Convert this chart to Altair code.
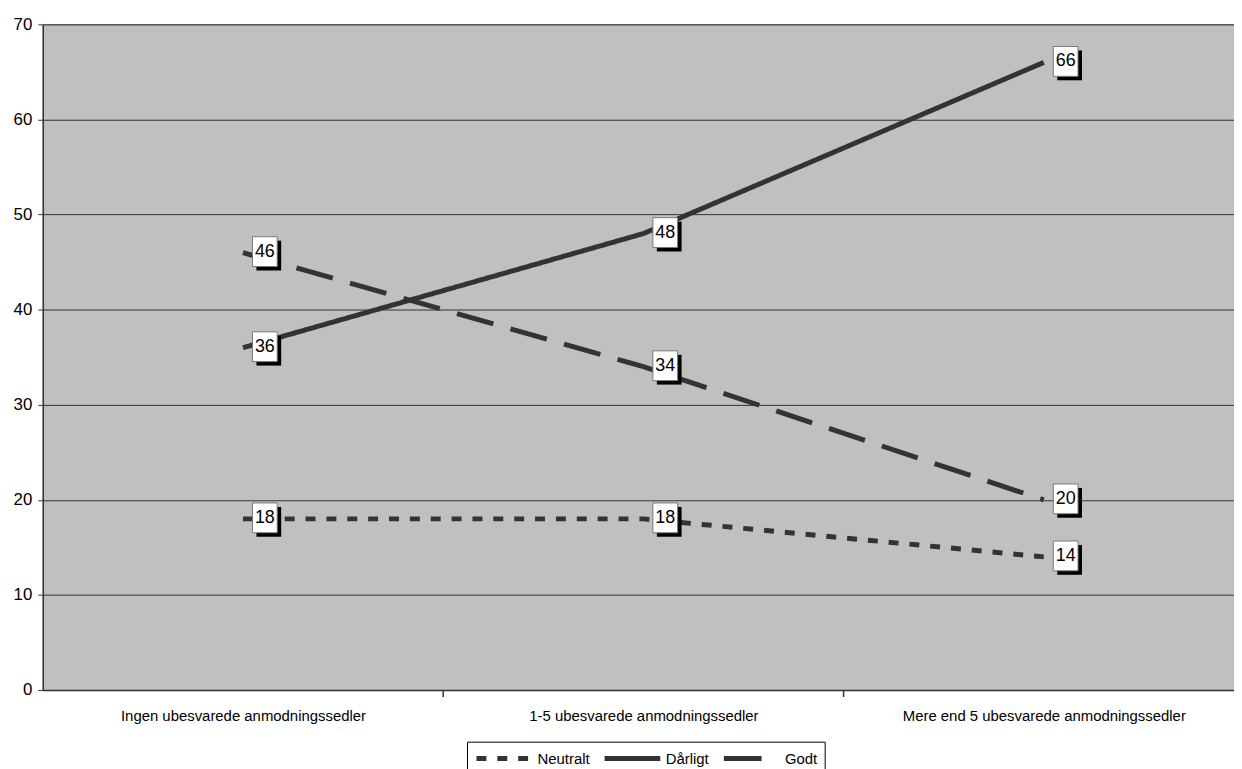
import altair as alt
import pandas as pd

categories = [
    "Ingen ubesvarede anmodningssedler",
    "1-5 ubesvarede anmodningssedler",
    "Mere end 5 ubesvarede anmodningssedler",
]
series = ["Neutralt", "Dårligt", "Godt"]
neutralt = [18, 18, 14]
daarligt = [36, 48, 66]
godt = [46, 34, 20]
y_ticks = [0, 10, 20, 30, 40, 50, 60, 70]
x_boundaries = [0.5, 1.5]

rows = []
for name, vals in zip(series, [neutralt, daarligt, godt]):
    for i, (c, v) in enumerate(zip(categories, vals)):
        rows.append({"idx": i, "category": c, "series": name, "value": v})
df = pd.DataFrame(rows)
bounds = pd.DataFrame({"b": x_boundaries})

W, H = 1199, 670
FONT = "Liberation Sans"
LINE = "#333333"

label_expr = "[" + ",".join("'" + c + "'" for c in categories) + "][datum.value]"

x_scale = alt.Scale(domain=[-0.5, 2.475], nice=False, zero=False)
y_scale = alt.Scale(domain=[0, 70], nice=False)

x_enc = alt.X(
    "idx:Q",
    scale=x_scale,
    axis=alt.Axis(
        values=[0, 1, 2],
        labelExpr=label_expr,
        ticks=False,
        grid=False,
        title=None,
        labelFontSize=15,
        labelFont=FONT,
        labelColor="black",
        labelPadding=19,
        labelLimit=0,
        domainColor=LINE,
        domainWidth=1.5,
    ),
)
y_enc = alt.Y(
    "value:Q",
    scale=y_scale,
    axis=alt.Axis(
        values=y_ticks,
        title=None,
        grid=True,
        gridColor=LINE,
        gridWidth=1,
        tickColor=LINE,
        tickSize=5,
        domainColor=LINE,
        domainWidth=1.5,
        labelFontSize=17,
        labelFont=FONT,
        labelColor="black",
        labelPadding=6,
    ),
)

base = alt.Chart(df)

lines = base.mark_line(strokeWidth=5, color=LINE).encode(
    x=x_enc,
    y=y_enc,
    strokeDash=alt.StrokeDash(
        "series:N",
        scale=alt.Scale(domain=series, range=[[10, 11], [1, 0], [38, 18]]),
        sort=series,
        legend=alt.Legend(
            title=None,
            orient="none",
            legendX=427,
            legendY=722,
            direction="horizontal",
            symbolType="stroke",
            symbolSize=3136,
            symbolStrokeWidth=5,
            symbolStrokeColor=LINE,
            clipHeight=20,
            labelFontSize=15,
            labelFont=FONT,
            labelColor="black",
            fillColor="white",
            strokeColor="black",
            padding=7,
            columnPadding=12,
            labelOffset=3,
        ),
    ),
)

box_shape = "M-0.83,-1 L0.83,-1 L0.83,1 L-0.83,1 Z"

shadow = base.mark_point(
    shape=box_shape, size=900, filled=True, fill="black", opacity=1,
    xOffset=26, yOffset=3, strokeWidth=0,
).encode(x="idx:Q", y="value:Q")

box = base.mark_point(
    shape=box_shape, size=900, filled=True, fill="white", opacity=1,
    stroke="#777777", strokeWidth=1, xOffset=22, yOffset=-1,
).encode(x="idx:Q", y="value:Q")

text = base.mark_text(
    dx=22, dy=-1, fontSize=18, font=FONT, color="black", align="center", baseline="middle",
).encode(x="idx:Q", y="value:Q", text="value:Q")

ticks = alt.Chart(bounds).mark_rule(color=LINE, strokeWidth=1.5).encode(
    x=alt.X("b:Q", scale=x_scale),
    y=alt.value(H),
    y2=alt.value(H + 7),
)

chart = (
    alt.layer(lines, ticks, shadow, box, text)
    .properties(
        width=W,
        height=H,
        autosize=alt.AutoSizeParams(type="none"),
        padding={"left": 35, "top": 14, "right": 0, "bottom": 77},
        background="white",
    )
    .configure_view(fill="#C0C0C0", stroke="#808080", strokeWidth=1)
)

chart.save("out.html", embed_options={"renderer": "svg", "actions": False})
